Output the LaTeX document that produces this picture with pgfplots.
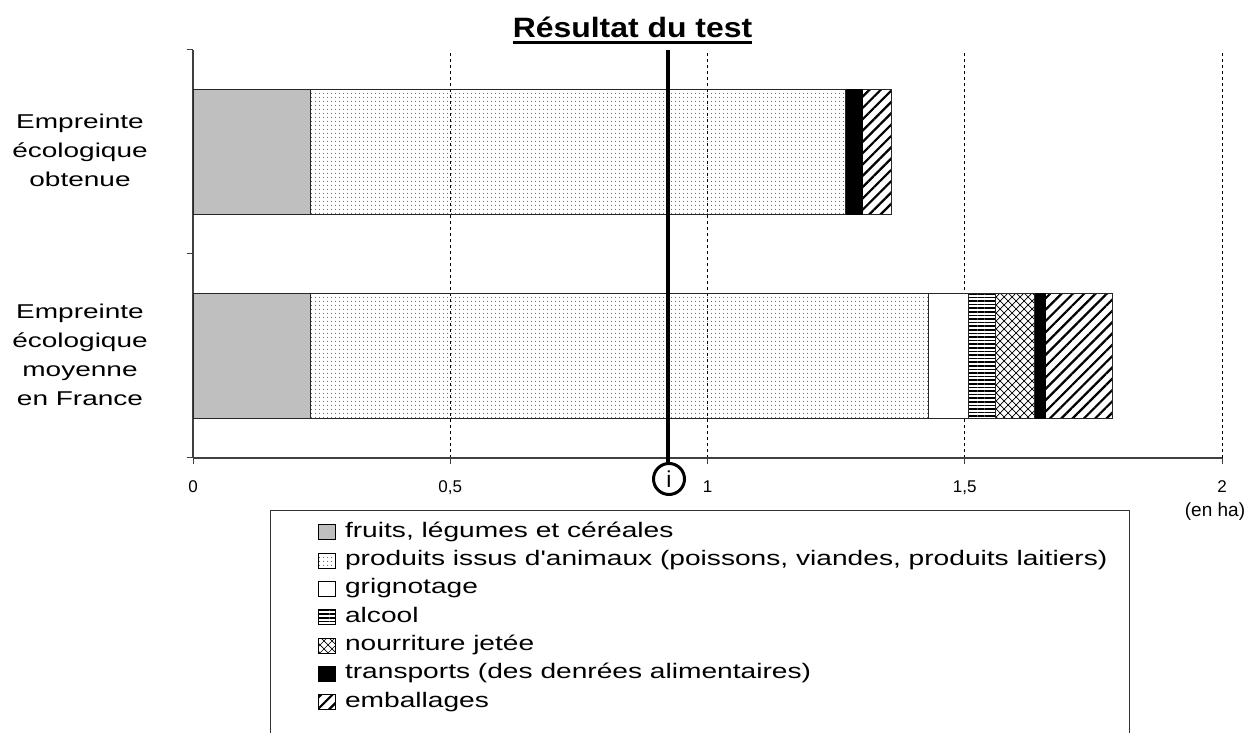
\documentclass[border=0pt]{standalone}
\usepackage{fontspec}
\setmainfont{Liberation Sans}
\usepackage{graphicx}
\usepackage{pgfplots}
\pgfplotsset{compat=1.18}
\usetikzlibrary{patterns,patterns.meta}
\tikzdeclarepattern{name=mycross, type=uncolored,
  bounding box={(-0.5pt,-0.5pt) and (8.5pt,8.5pt)}, tile size={(8pt,8pt)},
  code={\draw[line width=0.7pt] (0,0)--(8pt,8pt); \draw[line width=0.7pt] (0,8pt)--(8pt,0);}}
\pgfplotsset{leg/.style={legend image code/.code={\draw[##1,draw=black,line width=0.8pt] (0pt,-7.5pt) rectangle (17pt,7.5pt);}}}
\newcommand{\wl}[1]{\scalebox{1.4}[1]{\fontsize{20}{29}\selectfont\begin{tabular}{@{}c@{}}#1\end{tabular}}}
\newcommand{\legtxt}[1]{\scalebox{1.34}[1]{#1}}
\begin{document}
\begin{tikzpicture}[x=1pt,y=1pt]
\path[use as bounding box] (0,0) rectangle (1250,733);
\begin{axis}[
  at={(193pt,275pt)}, anchor=south west,
  scale only axis, width=1029pt, height=408pt,
  xmin=0, xmax=2, ymin=0, ymax=2,
  axis x line*=bottom, axis y line*=left,
  axis line style={line width=1.3pt, black!75},
  xbar stacked, bar width=125pt,
  xtick={0,0.5,1,1.5,2},
  /pgf/number format/.cd, use comma, assume math mode=true, /pgfplots/.cd,
  xticklabel style={font=\fontsize{17}{17}\selectfont, yshift=-13pt},
  tick align=outside, major tick length=6pt,
  tick style={black!75, line width=1pt},
  xmajorgrids, grid style={dashed, black, line width=0.8pt},
  ytick={0,1,2}, yticklabels={},
  extra y ticks={0.5,1.5},
  extra y tick labels={{\wl{Empreinte\\écologique\\moyenne\\en France}},{\raisebox{-8pt}{\wl{Empreinte\\écologique\\obtenue}}}},
  extra y tick style={major tick length=0pt, yticklabel style={anchor=center, xshift=-113pt, inner sep=0pt}},
  legend style={at={(0.1186,-0.15)}, anchor=north west, draw=none, fill=none,
    font=\fontsize{21}{21}\selectfont, row sep=6.3pt,
    nodes={inner sep=0pt, text height=16pt, text depth=6pt},
    /tikz/every odd column/.append style={column sep=9pt}},
  legend cell align=left,
  clip=false,
]
\addplot+[leg, fill=black!25, draw=black!85, line width=0.8pt] coordinates {(0.229,0.5) (0.229,1.5)};
\addlegendentry{\legtxt{fruits, légumes et céréales}}
\addplot+[leg, pattern={Dots[radius=0.55pt,distance=4pt]}, pattern color=black, draw=black!85, line width=0.8pt] coordinates {(1.200,0.5) (1.039,1.5)};
\addlegendentry{\legtxt{produits issus d\textquotesingle animaux (poissons, viandes, produits laitiers)}}
\addplot+[leg, fill=white, draw=black!85, line width=0.8pt] coordinates {(0.078,0.5) (0,1.5)};
\addlegendentry{\legtxt{grignotage}}
\addplot+[leg, pattern={Lines[angle=0,distance=3.6pt,line width=1.6pt]}, pattern color=black, draw=black!85, line width=0.8pt] coordinates {(0.052,0.5) (0,1.5)};
\addlegendentry{\legtxt{alcool}}
\addplot+[leg, pattern=mycross, pattern color=black, draw=black!85, line width=0.8pt] coordinates {(0.077,0.5) (0,1.5)};
\addlegendentry{\legtxt{nourriture jetée}}
\addplot+[leg, fill=black, draw=black, line width=0.8pt] coordinates {(0.020,0.5) (0.033,1.5)};
\addlegendentry{\legtxt{transports (des denrées alimentaires)}}
\addplot+[leg, pattern={Lines[angle=45,distance=8pt,line width=2.2pt]}, pattern color=black, draw=black!85, line width=0.8pt] coordinates {(0.130,0.5) (0.056,1.5)};
\addlegendentry{\legtxt{emballages}}
\end{axis}
% title
\node[anchor=base, font=\bfseries\fontsize{28}{28}\selectfont, inner sep=0pt] (t) at (632.5,695) {\scalebox{1.14}[1]{Résultat du test}};
\draw[line width=2.8pt] ([yshift=-4.5pt]t.base west) -- ([yshift=-4.5pt]t.base east);
% indicator line
\draw[line width=3.5pt] (668,683) -- (668,270);
\draw[line width=3pt, fill=white] (669,254) circle (15.5);
\node[font=\fontsize{23}{23}\selectfont] at (669,254) {i};
% unit
\node[font=\fontsize{19}{19}\selectfont] at (1215,221) {(en ha)};
% legend frame
\draw[line width=1pt, black!80] (270,-10) -- (270,222) -- (1129,222) -- (1129,-10);
\end{tikzpicture}
\end{document}
